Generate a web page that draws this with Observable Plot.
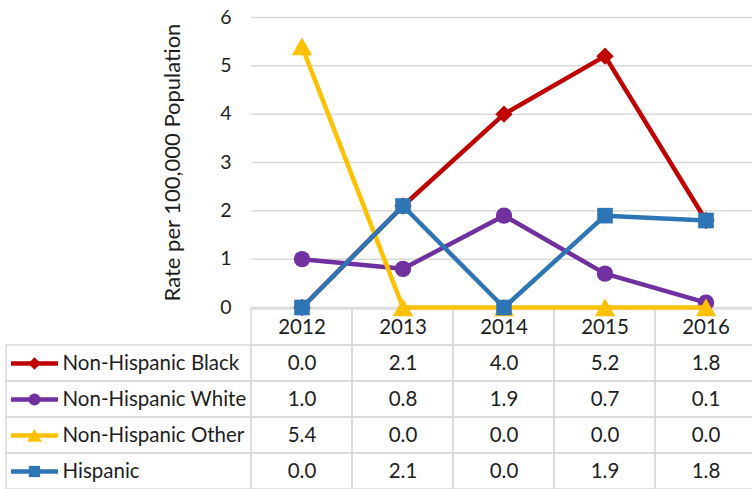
<!DOCTYPE html>
<html>
<head>
<meta charset="utf-8">
<script src="https://cdn.jsdelivr.net/npm/d3@7"></script>
<script src="https://cdn.jsdelivr.net/npm/@observablehq/plot@0.6"></script>
<style>
  html, body { margin: 0; padding: 0; background: #fff; }
  #wrap { position: relative; width: 752px; height: 489px; overflow: hidden; font-family: Lato, "Noto Sans", sans-serif; }
  #wrap svg { position: absolute; left: 0; }
</style>
</head>
<body>
<div id="wrap"></div>
<script>
// Rates per 100,000 population by race/ethnicity, 2012–2016
const years = [2012, 2013, 2014, 2015, 2016];
const seriesNames = ["Non-Hispanic Black", "Non-Hispanic White", "Non-Hispanic Other", "Hispanic"];
const black = [0.0, 2.1, 4.0, 5.2, 1.8];
const white = [1.0, 0.8, 1.9, 0.7, 0.1];
const other = [5.4, 0.0, 0.0, 0.0, 0.0];
const hispanic = [0.0, 2.1, 0.0, 1.9, 1.8];
const yTicks = [0, 1, 2, 3, 4, 5, 6];
const yTitle = "Rate per 100,000 Population";

const seriesValues = [black, white, other, hispanic];
const seriesColors = ["#C00000", "#7030A0", "#FFC000", "#2E75B6"];
const seriesSymbols = ["diamond2", "circle", "triangle", "square"];
const markerR = [7.8, 8.2, 7.6, 8.8];
const markerDy = [0, 0, 2.8, 0];

const rows = seriesNames.flatMap((name, i) =>
  years.map((year, j) => ({ series: name, year, value: seriesValues[i][j] }))
);

const font = "Lato, 'Noto Sans', sans-serif";
const textColor = "#1e1e1e";
const gridColor = "#D9D9D9";
const tableFont = 20.5;
const colScale = { domain: seriesNames, range: seriesColors };
const symScale = { domain: seriesNames, range: seriesSymbols };
const xBand = { type: "band", domain: years, range: [251, 756], padding: 0, axis: null };
const rowBand = { type: "band", domain: ["", ...seriesNames], range: [0, 184], padding: 0, axis: null };

// Data table: year header and one row of values per series
const table = Plot.plot({
  width: 752, height: 184, margin: 0,
  x: xBand, y: rowBand,
  style: { fontFamily: font, color: textColor, background: "transparent" },
  marks: [
    Plot.cell(years, { x: d => d, y: () => "", fill: "none", stroke: gridColor, strokeWidth: 1.5, inset: 0 }),
    Plot.cell(rows, { x: "year", y: "series", fill: "none", stroke: gridColor, strokeWidth: 1.5, inset: 0 }),
    Plot.text(years, { x: d => d, y: () => "", text: d => String(d), fontSize: tableFont, fill: textColor }),
    Plot.text(rows, { x: "year", y: "series", text: d => d.value.toFixed(1), fontSize: tableFont, fill: textColor })
  ]
});
table.style.top = "307px";

// Legend column of the table: swatch (line + marker) and series name
const legendSpan = [0, 245];
const legendMarkers = seriesNames.map((name, i) =>
  Plot.dot([name], { y: d => d, x: 28, symbol: d => d, fill: d => d, stroke: "none",
    r: markerR[i] * 0.72, dy: markerDy[i] * 0.72 })
);
const legend = Plot.plot({
  width: 251, height: 184, margin: 0,
  x: { domain: legendSpan, range: [6, 251], axis: null },
  y: rowBand,
  color: colScale, symbol: symScale,
  style: { fontFamily: font, color: textColor, background: "transparent" },
  marks: [
    Plot.barX(seriesNames, { y: d => d, x1: legendSpan[0], x2: legendSpan[1], fill: "none", stroke: gridColor, strokeWidth: 1.5, inset: 0 }),
    Plot.ruleY(seriesNames, { y: d => d, x1: 5, x2: 52, stroke: d => d, strokeWidth: 4.5 }),
    ...legendMarkers,
    Plot.text(seriesNames, { y: d => d, x: 56, text: d => d, textAnchor: "start", fontSize: tableFont, fill: textColor })
  ]
});
legend.style.top = "307px";

// Line chart with markers, one layer per series
const seriesMarks = seriesNames.flatMap((name, i) => {
  const data = rows.filter(d => d.series === name);
  return [
    Plot.line(data, { x: "year", y: "value", stroke: "series", strokeWidth: 4.5, strokeLinejoin: "miter", strokeLinecap: "butt" }),
    Plot.dot(data, { x: "year", y: "value", symbol: "series", fill: "series", stroke: "none", r: markerR[i], dy: markerDy[i] })
  ];
});

const chart = Plot.plot({
  width: 752, height: 330,
  marginLeft: 251, marginRight: 0, marginTop: 17, marginBottom: 23,
  x: xBand,
  y: { domain: [0, 6] },
  color: colScale, symbol: symScale,
  style: { fontFamily: font, color: textColor, background: "transparent", overflow: "visible" },
  marks: [
    Plot.ruleY(yTicks, { y: d => d, stroke: gridColor, strokeWidth: 1.5 }),
    Plot.axisY(yTicks, { tickSize: 0, tickPadding: 20, fontSize: 19.5, fill: textColor, label: null }),
    Plot.text([yTitle], { frameAnchor: "left", dx: -79, rotate: -90, textAnchor: "middle", lineAnchor: "middle",
      text: d => d, fontSize: 22, fill: textColor }),
    ...seriesMarks
  ]
});
chart.style.top = "0px";

const wrap = document.getElementById("wrap");
wrap.append(table, legend, chart);
</script>
</body>
</html>
